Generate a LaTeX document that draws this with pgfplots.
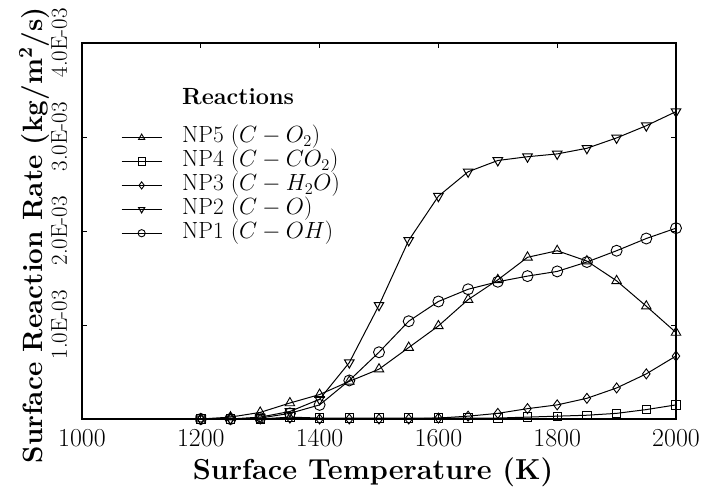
\RequirePackage{fix-cm}
\documentclass[border=0pt]{standalone}
\usepackage{pgfplots}
\pgfplotsset{compat=1.18}
\usepackage{pgfplotstable}

% Surface reaction rates (kg/m^2/s) versus surface temperature (K)
\pgfplotstableread{
T     NPfive   NPfour   NPthree  NPtwo    NPone
1200  0.00e-3  0.00e-3  0.00e-3  0.00e-3  0.00e-3
1250  0.02e-3  0.00e-3  0.00e-3  0.00e-3  0.00e-3
1300  0.07e-3  0.00e-3  0.00e-3  0.02e-3  0.01e-3
1350  0.17e-3  0.02e-3  0.01e-3  0.08e-3  0.06e-3
1400  0.26e-3  0.01e-3  0.00e-3  0.21e-3  0.15e-3
1450  0.40e-3  0.01e-3  0.00e-3  0.60e-3  0.41e-3
1500  0.53e-3  0.01e-3  0.00e-3  1.21e-3  0.71e-3
1550  0.76e-3  0.01e-3  0.00e-3  1.90e-3  1.04e-3
1600  0.99e-3  0.01e-3  0.01e-3  2.37e-3  1.25e-3
1650  1.27e-3  0.01e-3  0.03e-3  2.63e-3  1.38e-3
1700  1.48e-3  0.01e-3  0.06e-3  2.75e-3  1.46e-3
1750  1.72e-3  0.02e-3  0.11e-3  2.79e-3  1.52e-3
1800  1.79e-3  0.03e-3  0.15e-3  2.82e-3  1.57e-3
1850  1.68e-3  0.04e-3  0.22e-3  2.88e-3  1.67e-3
1900  1.47e-3  0.06e-3  0.33e-3  2.99e-3  1.79e-3
1950  1.20e-3  0.10e-3  0.48e-3  3.12e-3  1.92e-3
2000  0.92e-3  0.15e-3  0.67e-3  3.27e-3  2.03e-3
}\rates

\newcommand{\ylab}[1]{\scalebox{0.82}{#1}}

\begin{document}
\begin{tikzpicture}
\begin{axis}[
  name=ax,
  scale only axis,
  width=594bp, height=376bp,
  xmin=1000, xmax=2000,
  ymin=0, ymax=4e-3,
  xtick={1000,1200,...,2000},
  ytick={0,1e-3,2e-3,3e-3,4e-3},
  yticklabels={,\ylab{1.0E-03},\ylab{2.0E-03},\ylab{3.0E-03},\ylab{4.0E-03}},
  scaled y ticks=false,
  /pgf/number format/1000 sep={},
  /pgf/number format/assume math mode=true,
  tick align=inside,
  major tick length=5bp,
  axis line style={line width=1.1bp},
  tick style={line width=0.9bp, black},
  xticklabel style={font=\fontsize{26}{28}\selectfont, anchor=base, yshift=-28bp},
  yticklabel style={font=\fontsize{28}{30}\selectfont, rotate=90, anchor=base, yshift=15bp},
  xlabel={\textbf{Surface Temperature (K)}},
  ylabel={\textbf{Surface Reaction Rate (kg/m$^{\mathbf{2}}$/s)}},
  every axis x label/.style={at={(axis description cs:0.5,0)}, anchor=base,
    yshift=-61bp, xshift=-6bp, font=\fontsize{29}{32}\selectfont},
  every axis y label/.style={at={(axis description cs:-0.0673,0.489)}, rotate=90, anchor=base,
    font=\fontsize{28}{31}\selectfont},
  every axis plot/.append style={black, line width=1bp, mark options={solid, fill=white, line width=0.9bp}},
  legend cell align=left,
  legend style={at={(0.0606,0.887)}, anchor=north west, draw=none, fill=none,
    font=\fontsize{23.5}{25}\selectfont,
    nodes={text height=16bp, text depth=5.5bp, inner ysep=1.2bp, inner xsep=3bp},
    /tikz/every odd column/.append style={column sep=17bp}},
  legend image code/.code={%
    \draw[mark repeat=2, mark phase=2, mark size=3.6bp] plot coordinates {(0cm,0cm) (0.705cm,0cm) (1.41cm,0cm)};},
]
\addlegendimage{empty legend}
\addlegendentry[text depth=19.6bp]{\textbf{Reactions}}
\addplot[mark=triangle, mark size=5.5bp] table[x=T, y=NPfive] {\rates};
\addlegendentry{NP5 ($C-O_2$)}
\addplot[mark=square, mark size=4.2bp] table[x=T, y=NPfour] {\rates};
\addlegendentry{NP4 ($C-CO_2$)}
\addplot[mark=diamond, mark size=5bp] table[x=T, y=NPthree] {\rates};
\addlegendentry{NP3 ($C-H_2O$)}
\addplot[mark=triangle, mark size=5.5bp, mark options={rotate=180}] table[x=T, y=NPtwo] {\rates};
\addlegendentry{NP2 ($C-O$)}
\addplot[mark=o, mark size=5.5bp] table[x=T, y=NPone] {\rates};
\addlegendentry{NP1 ($C-OH$)}
\end{axis}
\pgfresetboundingbox
\path[use as bounding box] ([shift={(-82bp,-68bp)}]ax.south west) rectangle ([shift={(25bp,43bp)}]ax.north east);
\end{tikzpicture}
\end{document}
